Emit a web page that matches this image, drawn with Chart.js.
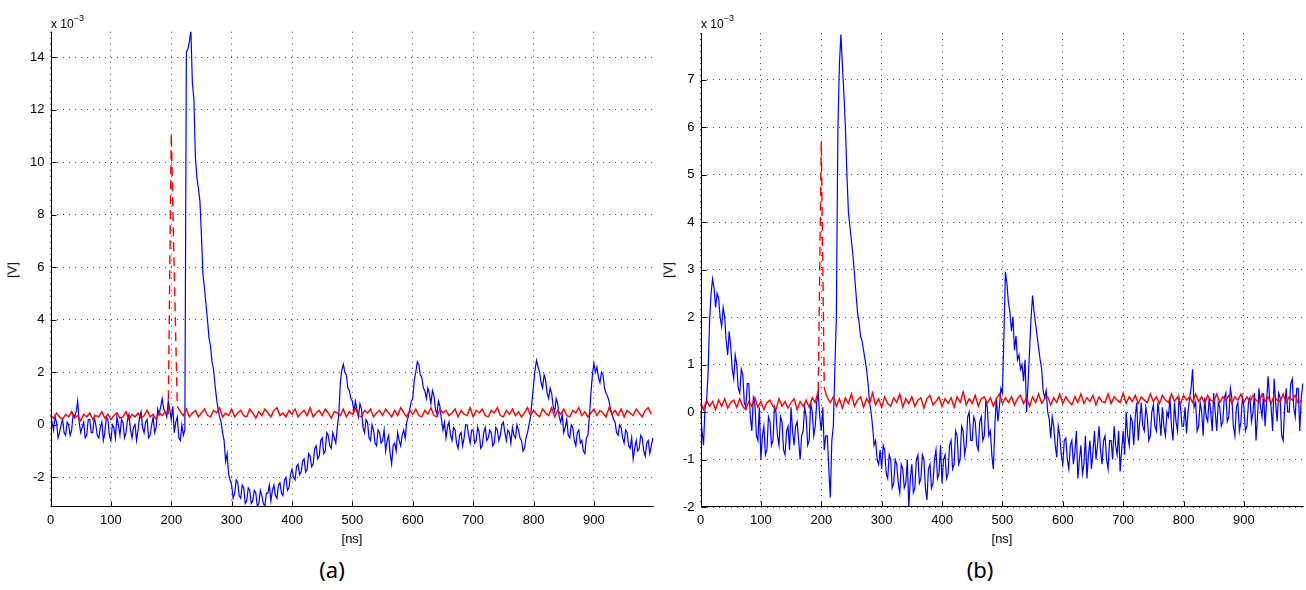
<!DOCTYPE html>
<html>
<head>
<meta charset="utf-8">
<script src="https://cdn.jsdelivr.net/npm/chart.js@4.4.1/dist/chart.umd.min.js"></script>
<style>
  body { margin: 0; background: #fff; width: 1306px; height: 590px; position: relative; overflow: hidden; font-family: "Liberation Sans", Arial, sans-serif; }
  canvas { position: absolute; top: 0; }
  #scopeA { left: 0; }
  #scopeB { left: 650px; }
  .lbl { position: absolute; color: #000; white-space: nowrap; line-height: 1; }
  .exp { font-size: 12px; top: 16px; }
  .exp sup { font-size: 9px; position: relative; top: -2px; }
  .ylab { font-size: 13px; transform: translate(-50%, -50%) rotate(-90deg); }
  .xlab { font-size: 13px; transform: translateX(-50%); top: 532px; }
  .cap { font-family: "Noto Sans", "DejaVu Sans", sans-serif; font-size: 22px; transform: translateX(-50%); top: 558px; }
</style>
</head>
<body>
<canvas id="scopeA" width="660" height="535"></canvas>
<canvas id="scopeB" width="656" height="535"></canvas>

<div class="lbl exp" style="left:51px">x 10<sup>&minus;3</sup></div>
<div class="lbl exp" style="left:701px">x 10<sup>&minus;3</sup></div>
<div class="lbl ylab" style="left:12px; top:270px">[V]</div>
<div class="lbl ylab" style="left:668px; top:270px">[V]</div>
<div class="lbl xlab" style="left:352px">[ns]</div>
<div class="lbl xlab" style="left:1002px">[ns]</div>
<div class="lbl cap" style="left:332px">(a)</div>
<div class="lbl cap" style="left:980px">(b)</div>

<script>
// values in units of 1e-3 V; blue sampled every 2.5 ns, red every 5 ns
const blueStepNs = 2.5;
const redStepNs = 5;

const xTicks = [0, 100, 200, 300, 400, 500, 600, 700, 800, 900];
const yTicksA = [-2, 0, 2, 4, 6, 8, 10, 12, 14];
const yTicksB = [-2, -1, 0, 1, 2, 3, 4, 5, 6, 7];
const xRange = [0, 999];
const yRangeA = [-3.12, 14.97];
const yRangeB = [-2, 7.98];

const blueA = [
    0.4, 0.1, -0.2, 0.3, 0.1, -0.5, -0.3, 0.0, 0.2, -0.3, -0.4, 0.1, 0.0, -0.4, -0.2, 0.4, 0.3, 0.5, 0.9, 0.1,
    -0.3, -0.1, 0.1, -0.5, -0.4, 0.2, 0.2, -0.3, -0.3, 0.3, 0.0, -0.4, -0.5, -0.1, 0.1, -0.6, -0.3, 0.3, 0.2, -0.4,
    -0.6, 0.0, -0.1, -0.5, 0.3, 0.0, -0.4, 0.2, 0.1, -0.5, -0.3, 0.2, 0.4, -0.2, -0.5, -0.1, 0.0, -0.6, -0.2, 0.3,
    0.5, -0.1, -0.3, 0.1, 0.2, -0.5, -0.4, 0.0, 0.3, -0.3, -0.1, 0.6, 0.4, 0.7, 1.0, 0.6, 0.5, 0.3, 0.9, 0.6,
    0.2, 0.7, -0.3, 0.1, 0.3, -0.5, -0.6, 0.0, -0.4, -0.2, 14.2, 14.3, 14.6, 15.0, 13.0, 12.4, 10.2, 9.4, 9.0, 8.5,
    7.2, 5.7, 5.2, 4.6, 4.0, 3.3, 3.0, 2.4, 2.1, 1.5, 1.0, 0.6, 0.3, 0.1, -0.3, -0.6, -1.4, -1.1, -1.9, -2.1,
    -2.3, -2.8, -2.6, -2.1, -2.2, -2.7, -2.8, -2.3, -2.4, -3.0, -2.9, -2.4, -2.5, -3.0, -2.9, -2.5, -2.6, -3.1, -3.0, -2.5,
    -2.7, -3.0, -3.1, -2.6, -2.6, -2.3, -2.9, -2.5, -2.3, -2.7, -2.8, -2.3, -2.2, -2.6, -2.7, -2.1, -2.0, -2.5, -2.4, -1.9,
    -1.7, -2.0, -2.1, -1.6, -1.5, -1.9, -1.8, -1.4, -1.3, -1.8, -1.7, -1.1, -1.2, -1.6, -1.5, -0.9, -0.8, -1.3, -1.2, -0.6,
    -0.5, -1.1, -1.0, -0.3, -0.4, -0.8, -0.9, -0.3, -0.5, -0.7, -0.1, 0.4, 1.6, 2.1, 2.3, 2.0, 1.9, 1.4, 1.3, 1.0,
    0.9, 0.5, 0.9, 0.6, 0.3, 0.8, 0.6, -0.1, -0.3, 0.2, 0.1, -0.5, -0.6, 0.0, -0.2, -0.7, -0.8, -0.2, -0.3, -0.7,
    -0.6, -0.2, -1.0, -0.6, -0.4, -1.1, -1.5, -0.8, -0.7, -1.0, -0.3, -0.6, -0.8, -0.4, -0.2, -0.5, 0.1, 0.3, 0.6, 0.9,
    1.0, 1.7, 2.0, 2.4, 2.3, 1.9, 1.8, 1.4, 1.3, 1.0, 1.4, 1.2, 0.8, 1.3, 1.1, 0.6, 0.4, 0.9, 0.7, 0.2,
    -0.2, 0.1, -0.5, -0.1, 0.1, -0.4, -0.6, -0.1, -0.2, -0.7, -0.9, -0.4, -0.3, -0.8, -0.5, 0.0, 0.0, -0.4, -0.7, -0.2,
    -0.2, -0.7, -0.6, -0.1, -0.3, -0.9, -0.8, -0.3, -0.1, -0.6, -0.5, -0.2, -0.3, -0.8, -0.7, -0.1, -0.2, -0.6, -0.4, 0.0,
    0.1, -0.3, -0.6, -0.2, -0.3, -0.7, -0.1, -0.4, -0.5, 0.0, -0.2, -0.5, -0.6, -1.0, -0.9, -0.5, -0.3, 0.0, 0.3, 0.9,
    1.5, 2.1, 2.45, 2.2, 2.0, 1.6, 1.4, 1.9, 1.7, 1.2, 1.0, 1.4, 1.2, 0.7, 0.5, 1.0, 0.8, 0.3, 0.1, 0.4,
    -0.3, -0.1, 0.2, -0.4, -0.5, 0.0, -0.1, -0.6, -0.8, -0.3, -0.2, -0.7, -0.6, -1.0, -1.1, -0.5, -0.4, 0.3, 1.2, 1.9,
    2.35, 2.0, 2.2, 1.8, 1.6, 2.0, 1.9, 1.4, 1.2, 1.1, 0.9, 0.6, 0.4, 0.2, 0.1, -0.3, -0.4, 0.0, -0.1, -0.5,
    -0.7, -0.2, -0.3, -0.8, -0.9, -0.5, -1.3, -0.9, -0.6, -1.0, -0.9, -0.4, -0.5, -1.0, -1.2, -0.7, -0.6, -1.1, -0.8, -0.5
];

const redA = [
    0.35, 0.25, 0.45, 0.3, 0.2, 0.4, 0.3, 0.5, 0.25, 0.35, 0.15, 0.4, 0.3, 0.45, 0.2, 0.35, 0.3, 0.5, 0.25, 0.4,
    0.2, 0.35, 0.45, 0.25, 0.3, 0.5, 0.2, 0.4, 0.3, 0.45, 0.25, 0.35, 0.55, 0.3, 0.4, 0.2, 0.45, 0.35, 0.5, 0.4,
    11.1, 5.8, 0.7,
    0.5, 0.35, 0.6, 0.3, 0.45, 0.55, 0.3, 0.45, 0.6, 0.35, 0.3, 0.55, 0.45, 0.65, 0.3, 0.45, 0.35, 0.6, 0.3, 0.45,
    0.55, 0.35, 0.3, 0.6, 0.45, 0.25, 0.5, 0.35, 0.6, 0.45, 0.3, 0.55, 0.65, 0.35, 0.45, 0.3, 0.55, 0.4, 0.6, 0.3,
    0.45, 0.55, 0.35, 0.65, 0.3, 0.45, 0.55, 0.35, 0.6, 0.45, 0.25, 0.5, 0.45, 0.35, 0.6, 0.3, 0.5, 0.4, 0.65, 0.35,
    0.3, 0.55, 0.45, 0.6, 0.3, 0.45, 0.55, 0.35, 0.6, 0.45, 0.3, 0.55, 0.35, 0.65, 0.45, 0.3, 0.55, 0.4, 0.6, 0.35,
    0.3, 0.55, 0.4, 0.65, 0.35, 0.3, 0.6, 0.45, 0.55, 0.35, 0.45, 0.6, 0.3, 0.55, 0.4, 0.35, 0.65, 0.3, 0.55, 0.45,
    0.6, 0.35, 0.3, 0.55, 0.45, 0.65, 0.35, 0.3, 0.55, 0.4, 0.6, 0.35, 0.5, 0.3, 0.45, 0.65, 0.35, 0.55, 0.4, 0.3,
    0.6, 0.45, 0.35, 0.65, 0.3, 0.55, 0.4, 0.6, 0.35, 0.3, 0.55, 0.45, 0.65, 0.35, 0.5, 0.3, 0.45, 0.6, 0.35, 0.55,
    0.45, 0.3, 0.65, 0.4, 0.55, 0.35, 0.6, 0.3, 0.55, 0.45, 0.35, 0.6, 0.45, 0.3, 0.55, 0.65, 0.4
];

const blueB = [
    0.0, -0.4, -0.7, 0.1, 0.2, 0.8, 1.9, 2.5, 2.8, 2.6, 2.2, 2.5, 2.4, 2.0, 1.8, 2.2, 2.0, 1.5, 1.2, 1.7,
    1.4, 0.9, 0.7, 1.2, 1.0, 0.5, 0.4, 0.9, 0.8, 0.2, 0.1, 0.6, 0.6, -0.1, -0.4, 0.3, 0.2, -0.5, -0.6, 0.1,
    -1.0, -0.5, -0.3, -0.9, -0.8, -0.1, -0.2, -0.7, -0.6, 0.1, 0.0, -0.5, -0.7, -0.1, -0.2, -0.8, -0.9, -0.4, -0.3, -0.8,
    0.1, -0.4, -0.7, -0.3, -0.2, -0.6, -1.0, -0.5, -0.4, 0.1, -0.1, -0.7, -0.6, 0.2, 0.0, -0.5, -0.3, 0.2, 0.4, -0.1,
    -0.4, 0.1, -0.8, -0.5, -0.5, -1.2, -1.8, -0.6, -0.3, 0.9, 2.0, 5.9, 7.3, 7.95, 7.3, 6.7, 6.0, 5.0, 4.2, 3.9,
    3.6, 3.3, 2.9, 2.5, 2.1, 1.9, 1.6, 1.5, 1.3, 1.1, 0.9, 0.6, 0.2, 0.0, -0.3, -0.7, -0.6, -1.0, -1.1, -0.8,
    -1.2, -0.7, -0.8, -1.3, -1.4, -0.9, -1.0, -1.6, -1.5, -1.0, -1.1, -1.5, -1.7, -1.1, -1.2, -1.6, -1.5, -1.0, -2.0, -1.4,
    -1.1, -1.7, -1.6, -1.0, -0.9, -1.5, -1.4, -0.9, -1.0, -1.6, -1.85, -1.2, -1.1, -1.6, -1.5, -1.0, -0.8, -1.4, -1.3, -0.7,
    -1.5, -1.0, -0.9, -1.4, -1.3, -0.7, -0.6, -1.2, -1.1, -0.4, -0.5, -1.1, -1.0, -0.3, -0.4, -0.9, -0.7, -0.1, 0.0, -0.6,
    -0.6, -0.1, -0.2, -0.7, -0.8, -0.2, -0.1, -0.6, -0.5, 0.2, 0.1, -0.5, -0.4, -0.9, -1.2, -0.3, 0.3, -0.2, 0.1, 0.5,
    0.4, 1.6, 2.95, 2.7, 2.3, 2.1, 1.7, 2.0, 1.3, 1.6, 1.1, 1.2, 0.9, 1.0, 0.65, 1.1, 0.0, 0.6, 1.3, 2.0,
    2.45, 2.1, 1.85, 1.6, 1.35, 1.1, 0.9, 0.45, 0.3, 0.45, 0.0, -0.15, -0.55, -0.1, -0.3, -0.7, -0.95, -0.3, -0.5, -0.9,
    -1.1, -0.6, -0.55, -1.0, -1.2, -0.7, -0.6, -1.1, -0.85, -0.4, -1.4, -1.0, -0.7, -1.3, -1.1, -0.5, -1.4, -0.9, -0.6, -1.2,
    -0.85, -0.4, -1.0, -0.7, -0.3, -0.8, -1.1, -0.6, -0.5, -1.0, -1.2, -0.6, -0.6, -1.0, -0.3, -0.7, -0.9, -0.4, -1.25, -0.8,
    -0.4, -0.9, 0.0, -0.5, -0.7, -0.1, -0.2, -0.7, -0.1, 0.2, -0.6, -0.2, 0.2, -0.3, -0.4, 0.1, -0.1, -0.6, -0.5, 0.0,
    0.15, -0.3, -0.4, 0.2, -0.1, -0.5, 0.1, -0.3, -0.5, 0.0, -0.1, 0.3, -0.3, -0.6, 0.2, -0.2, -0.4, 0.3, 0.1, -0.3,
    -0.3, 0.1, -0.45, 0.0, 0.3, 0.5, 0.9, 0.1, 0.2, -0.4, -0.3, 0.2, 0.0, -0.5, 0.3, -0.1, -0.2, 0.3, 0.0, -0.4,
    0.4, 0.0, -0.4, 0.2, 0.1, -0.3, -0.2, 0.3, 0.4, -0.2, -0.1, 0.5, 0.3, -0.3, -0.5, 0.1, 0.2, -0.4, -0.2, 0.3,
    0.1, -0.4, -0.3, 0.2, 0.3, -0.2, 0.0, 0.4, -0.6, -0.1, 0.5, 0.1, -0.1, 0.4, -0.3, 0.2, 0.75, 0.3, 0.1, -0.4,
    0.7, 0.2, -0.2, 0.4, 0.3, -0.5, -0.6, 0.1, 0.5, 0.0, 0.0, 0.6, 0.7, 0.1, -0.1, 0.5, 0.5, -0.4, 0.3, 0.6
];

const redB = [
    0.2, 0.05, 0.25, 0.12, 0.22, 0.05, 0.25, 0.12, 0.28, 0.08, 0.2, 0.25, 0.1, 0.28, 0.12, 0.05, 0.22, 0.12, 0.3, 0.1,
    0.22, 0.05, 0.2, 0.25, 0.12, 0.05, 0.28, 0.12, 0.22, 0.08, 0.2, 0.28, 0.05, 0.22, 0.12, 0.25, 0.1, 0.3, 0.2,
    0.45, 5.7, 0.5, 0.3,
    0.2, 0.32, 0.12, 0.28, 0.08, 0.3, 0.18, 0.38, 0.12, 0.25, 0.32, 0.1, 0.28, 0.18, 0.4, 0.15, 0.28, 0.1, 0.32, 0.18,
    0.12, 0.3, 0.2, 0.38, 0.1, 0.28, 0.18, 0.32, 0.12, 0.25, 0.3, 0.08, 0.28, 0.35, 0.15, 0.22, 0.32, 0.12, 0.28, 0.18,
    0.3, 0.1, 0.32, 0.2, 0.42, 0.15, 0.28, 0.18, 0.35, 0.12, 0.28, 0.32, 0.18, 0.3, 0.12, 0.28, 0.38, 0.18, 0.3, 0.2,
    0.32, 0.15, 0.28, 0.35, 0.18, 0.3, 0.12, 0.32, 0.2, 0.38, 0.18, 0.28, 0.32, 0.15, 0.3, 0.2, 0.38, 0.18, 0.32, 0.22,
    0.15, 0.32, 0.2, 0.38, 0.18, 0.3, 0.22, 0.35, 0.15, 0.32, 0.22, 0.2, 0.38, 0.18, 0.32, 0.25, 0.2, 0.4, 0.18, 0.32,
    0.22, 0.35, 0.18, 0.32, 0.25, 0.2, 0.38, 0.22, 0.32, 0.18, 0.35, 0.25, 0.2, 0.38, 0.22, 0.32, 0.18, 0.35, 0.25, 0.32,
    0.2, 0.38, 0.22, 0.32, 0.18, 0.35, 0.25, 0.22, 0.38, 0.2, 0.32, 0.25, 0.35, 0.18, 0.32, 0.25, 0.38, 0.2, 0.32, 0.22,
    0.35, 0.25, 0.2, 0.38, 0.22, 0.32, 0.18, 0.35, 0.25, 0.22, 0.38, 0.2, 0.32, 0.25, 0.35, 0.18, 0.25
];

// MATLAB style axes: only left/bottom lines, short ticks pointing inwards
const matlabAxes = {
    id: 'matlabAxes',
    afterDraw(chart) {
        const { ctx, chartArea: a, scales: { x, y } } = chart;
        const left = Math.round(a.left) + 0.5;
        const bottom = Math.round(a.bottom) - 0.5;
        ctx.save();
        ctx.strokeStyle = '#000';
        ctx.lineWidth = 1;
        ctx.beginPath();
        ctx.moveTo(left, a.top);
        ctx.lineTo(left, bottom);
        ctx.lineTo(a.right, bottom);
        x.ticks.forEach(t => {
            const px = Math.round(x.getPixelForValue(t.value)) + 0.5;
            ctx.moveTo(px, bottom);
            ctx.lineTo(px, bottom - 5);
        });
        y.ticks.forEach(t => {
            const py = Math.round(y.getPixelForValue(t.value)) + 0.5;
            ctx.moveTo(left, py);
            ctx.lineTo(left + 5, py);
        });
        ctx.stroke();
        ctx.restore();
    }
};

function toPoints(values, step) {
    return values.map((v, i) => ({ x: i * step, y: v }));
}

function makeScope(id, blue, red, yRange, yTicks, top, bottomEdge, rightPad) {
    const ctx = document.getElementById(id)?.getContext('2d');
    if (!ctx) {
        console.error('Canvas element not found.');
        return;
    }
    const tickFont = { family: '"Liberation Sans", Arial, sans-serif', size: 13 };
    const canvasH = ctx.canvas.height;
    const gridLines = { color: 'rgba(0,0,0,0.7)', lineWidth: 1, drawTicks: false };

    new Chart(ctx, {
        type: 'line',
        data: {
            datasets: [
                {
                    data: toPoints(red, redStepNs),
                    borderColor: '#ff0000',
                    borderWidth: 1.4,
                    pointRadius: 0,
                    order: 0,
                    segment: {
                        borderDash: c => Math.abs(c.p1.parsed.y - c.p0.parsed.y) > 2 ? [9, 6] : undefined
                    }
                },
                {
                    data: toPoints(blue, blueStepNs),
                    borderColor: '#0000ff',
                    borderWidth: 1.2,
                    pointRadius: 0,
                    order: 1
                }
            ]
        },
        plugins: [matlabAxes],
        options: {
            responsive: false,
            animation: false,
            devicePixelRatio: 1,
            layout: { padding: { left: 0, top: top, right: rightPad, bottom: 0 } },
            plugins: { legend: { display: false }, tooltip: { enabled: false } },
            scales: {
                x: {
                    type: 'linear',
                    min: xRange[0],
                    max: xRange[1],
                    afterBuildTicks: s => { s.ticks = xTicks.map(v => ({ value: v })); },
                    afterFit: s => { s.height = canvasH - bottomEdge; },
                    ticks: { padding: 6, maxRotation: 0, autoSkip: false, color: '#000', font: tickFont },
                    grid: gridLines,
                    border: { display: false, dash: [1, 5] }
                },
                y: {
                    type: 'linear',
                    min: yRange[0],
                    max: yRange[1],
                    afterBuildTicks: s => { s.ticks = yTicks.map(v => ({ value: v })); },
                    afterFit: s => { s.width = 50.5; },
                    ticks: { padding: 6, autoSkip: false, color: '#000', font: tickFont },
                    grid: gridLines,
                    border: { display: false, dash: [1, 5] }
                }
            }
        }
    });
}

document.addEventListener('DOMContentLoaded', () => {
    makeScope('scopeA', blueA, redA, yRangeA, yTicksA, 31.7, 506.7, 660 - 653.7);
    makeScope('scopeB', blueB, redB, yRangeB, yTicksB, 33, 507, 656 - 653.7);
});
</script>
</body>
</html>
